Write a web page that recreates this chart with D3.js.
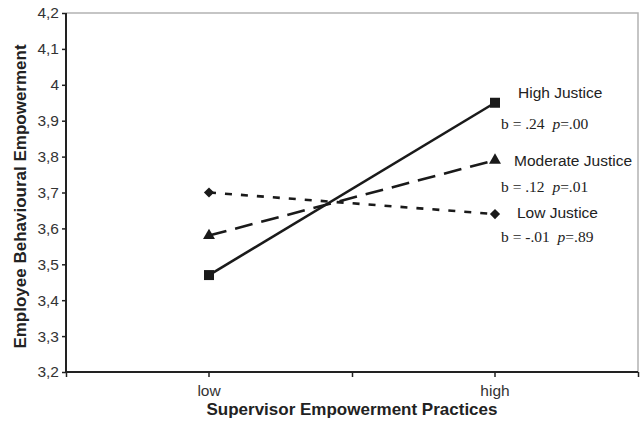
<!DOCTYPE html>
<html>
<head>
<meta charset="utf-8">
<script src="https://cdn.jsdelivr.net/npm/d3@7"></script>
<style>
  html, body { margin: 0; padding: 0; background: #fff; }
  svg { display: block; }
</style>
</head>
<body>
<svg id="chart" width="641" height="429"></svg>
<script>
// Supervisor empowerment practices (x) vs. employee behavioural empowerment (y)
const categories = ["low", "high"];
const seriesNames = ["High Justice", "Moderate Justice", "Low Justice"];
const highJustice = [3.47, 3.95];
const moderateJustice = [3.58, 3.79];
const lowJustice = [3.70, 3.64];
const statLabels = [
  { b: "b = .24", p: "=.00" },
  { b: "b = .12", p: "=.01" },
  { b: "b = -.01", p: "=.89" }
];
const yTicks = [3.2, 3.3, 3.4, 3.5, 3.6, 3.7, 3.8, 3.9, 4.0, 4.1, 4.2];

const svg = d3.select("#chart");
const plotLeft = 66, plotRight = 638, plotTop = 13, plotBottom = 372;

const x = d3.scaleBand().domain(categories).range([plotLeft, plotRight]).padding(0);
const cx = c => x(c) + x.bandwidth() / 2;
const y = d3.scaleLinear().domain([3.2, 4.2]).range([plotBottom, plotTop]);

// plot area frame (top and right edges)
svg.append("path")
  .attr("d", `M${plotLeft},${plotTop}H${plotRight}V${plotBottom}`)
  .attr("fill", "none").attr("stroke", "#b3b3b3").attr("stroke-width", 1.5);

// y axis
const yAxis = d3.axisLeft(y).tickValues(yTicks).tickSize(4).tickPadding(3)
  .tickFormat(d => (d === 4 ? "4" : d3.format(".1f")(d).replace(".", ",")));
const gy = svg.append("g").attr("transform", `translate(${plotLeft},0)`).call(yAxis);
gy.select(".domain").attr("stroke", "#222").attr("stroke-width", 2)
  .attr("d", `M0,${plotTop}V${plotBottom}`);
gy.selectAll(".tick line").attr("stroke", "#222").attr("stroke-width", 1.5);
gy.selectAll(".tick text")
  .attr("font-family", "Liberation Sans, Arial, sans-serif")
  .attr("font-size", 15.5).attr("fill", "#333");

// x axis: boundary ticks plus labelled category ticks
const xb = d3.scaleLinear().domain([0, 2]).range([plotLeft, plotRight]);
const gxb = svg.append("g").attr("transform", `translate(0,${plotBottom})`)
  .call(d3.axisBottom(xb).tickValues([0, 1, 2]).tickSize(5).tickFormat(""));
gxb.select(".domain").attr("stroke", "#222").attr("stroke-width", 2)
  .attr("d", `M${plotLeft},0H${plotRight}`);
gxb.selectAll(".tick line").attr("stroke", "#222").attr("stroke-width", 1.5);

const gx = svg.append("g").attr("transform", `translate(0,${plotBottom})`)
  .call(d3.axisBottom(x).tickSize(5).tickPadding(8));
gx.select(".domain").remove();
gx.selectAll(".tick line").attr("stroke", "#222").attr("stroke-width", 1.5);
gx.selectAll(".tick text")
  .attr("font-family", "Liberation Sans, Arial, sans-serif")
  .attr("font-size", 15.5).attr("fill", "#333");

// axis titles
svg.append("text")
  .attr("x", (plotLeft + plotRight) / 2).attr("y", 415)
  .attr("text-anchor", "middle")
  .attr("font-family", "Liberation Sans, Arial, sans-serif")
  .attr("font-weight", "bold").attr("font-size", 17).attr("fill", "#222")
  .text("Supervisor Empowerment Practices");

svg.append("text")
  .attr("transform", `translate(26,${(plotTop + plotBottom) / 2 + 4}) rotate(-90)`)
  .attr("text-anchor", "middle")
  .attr("font-family", "Liberation Sans, Arial, sans-serif")
  .attr("font-weight", "bold").attr("font-size", 17).attr("fill", "#222")
  .text("Employee Behavioural Empowerment");

// series lines and markers (diamond = square turned 45°)
const series = [
  { name: seriesNames[0], values: highJustice, dash: null, symbol: d3.symbolSquare, size: 100, rot: 0 },
  { name: seriesNames[1], values: moderateJustice, dash: "18,9", symbol: d3.symbolTriangle, size: 62, rot: 0 },
  { name: seriesNames[2], values: lowJustice, dash: "7,9", symbol: d3.symbolSquare, size: 52, rot: 45 }
];

const line = d3.line().x((d, i) => cx(categories[i])).y(d => y(d));

series.forEach(s => {
  svg.append("path")
    .datum(s.values)
    .attr("d", line)
    .attr("fill", "none").attr("stroke", "#1a1a1a").attr("stroke-width", 2.6)
    .attr("stroke-dasharray", s.dash);
  svg.selectAll(null).data(s.values).enter().append("path")
    .attr("transform", (d, i) => `translate(${cx(categories[i])},${y(d)}) rotate(${s.rot})`)
    .attr("d", d3.symbol().type(s.symbol).size(s.size))
    .attr("fill", "#1a1a1a");
});

// series annotations next to the high end
const nameX = [518, 514, 517];
const nameY = [98, 166, 218];
const statY = [129, 192, 242];
series.forEach((s, i) => {
  svg.append("text")
    .attr("x", nameX[i]).attr("y", nameY[i])
    .attr("font-family", "Liberation Sans, Arial, sans-serif")
    .attr("font-size", 15.5).attr("fill", "#222")
    .text(s.name);
  const t = svg.append("text")
    .attr("x", 501).attr("y", statY[i])
    .attr("font-family", "Liberation Serif, Times New Roman, serif")
    .attr("font-size", 15.5).attr("fill", "#222")
    .attr("xml:space", "preserve");
  t.append("tspan").text(statLabels[i].b + "  ");
  t.append("tspan").attr("font-style", "italic").text("p");
  t.append("tspan").text(statLabels[i].p);
});
</script>
</body>
</html>
